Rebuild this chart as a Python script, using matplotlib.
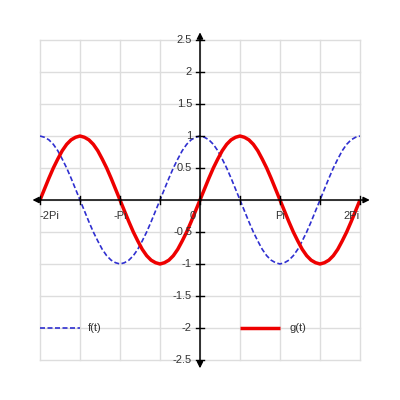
import matplotlib
matplotlib.use("Agg")
import matplotlib.pyplot as plt

plt.rcParams["font.family"] = ["Liberation Sans", "DejaVu Sans"]

# t in degrees (plotted axis spans -2Pi..2Pi), sampled every 10 degrees
t_deg = [-360, -350, -340, -330, -320, -310, -300, -290, -280, -270,
         -260, -250, -240, -230, -220, -210, -200, -190, -180,
         -170, -160, -150, -140, -130, -120, -110, -100, -90,
         -80, -70, -60, -50, -40, -30, -20, -10, 0,
         10, 20, 30, 40, 50, 60, 70, 80, 90,
         100, 110, 120, 130, 140, 150, 160, 170, 180,
         190, 200, 210, 220, 230, 240, 250, 260, 270,
         280, 290, 300, 310, 320, 330, 340, 350, 360]
f_vals = [1, 0.98, 0.94, 0.87, 0.77, 0.64, 0.5, 0.34, 0.17, 0,
          -0.17, -0.34, -0.5, -0.64, -0.77, -0.87, -0.94, -0.98, -1,
          -0.98, -0.94, -0.87, -0.77, -0.64, -0.5, -0.34, -0.17, 0,
          0.17, 0.34, 0.5, 0.64, 0.77, 0.87, 0.94, 0.98, 1,
          0.98, 0.94, 0.87, 0.77, 0.64, 0.5, 0.34, 0.17, 0,
          -0.17, -0.34, -0.5, -0.64, -0.77, -0.87, -0.94, -0.98, -1,
          -0.98, -0.94, -0.87, -0.77, -0.64, -0.5, -0.34, -0.17, 0,
          0.17, 0.34, 0.5, 0.64, 0.77, 0.87, 0.94, 0.98, 1]
g_vals = [0, 0.17, 0.34, 0.5, 0.64, 0.77, 0.87, 0.94, 0.98, 1,
          0.98, 0.94, 0.87, 0.77, 0.64, 0.5, 0.34, 0.17, 0,
          -0.17, -0.34, -0.5, -0.64, -0.77, -0.87, -0.94, -0.98, -1,
          -0.98, -0.94, -0.87, -0.77, -0.64, -0.5, -0.34, -0.17, 0,
          0.17, 0.34, 0.5, 0.64, 0.77, 0.87, 0.94, 0.98, 1,
          0.98, 0.94, 0.87, 0.77, 0.64, 0.5, 0.34, 0.17, 0,
          -0.17, -0.34, -0.5, -0.64, -0.77, -0.87, -0.94, -0.98, -1,
          -0.98, -0.94, -0.87, -0.77, -0.64, -0.5, -0.34, -0.17, 0]

x_ticks = [-360, -270, -180, -90, 0, 90, 180, 270, 360]
x_labels = ["-2Pi", "", "-Pi", "", "0", "", "Pi", "", "2Pi"]
y_ticks = [-2.5, -2, -1.5, -1, -0.5, 0, 0.5, 1, 1.5, 2, 2.5]
y_labels = ["-2.5", "-2", "-1.5", "-1", "-0.5", "", "0.5", "1", "1.5", "2", "2.5"]
series_names = ["f(t)", "g(t)"]

blue = "#2f2fd0"
red = "#ee0000"
txt = "#333333"
fs = 8

fig = plt.figure(figsize=(4, 4), dpi=100)
ax = fig.add_axes([0.1, 0.1, 0.8, 0.8])
ax.set_xlim(-360, 360)
ax.set_ylim(-2.5, 2.5)

# grid
for xv in x_ticks:
    ax.axvline(xv, color="#dddddd", lw=1, zorder=0, clip_on=False)
for yv in y_ticks:
    ax.axhline(yv, color="#dddddd", lw=1, zorder=0, clip_on=False)

for s in ax.spines.values():
    s.set_visible(False)
ax.set_xticks([])
ax.set_yticks([])

# axes with arrows
ax.annotate("", xy=(382, 0), xytext=(-377, 0), xycoords="data",
            arrowprops=dict(arrowstyle="<|-|>", color="black", lw=1.1,
                            mutation_scale=9, shrinkA=0, shrinkB=0),
            annotation_clip=False, zorder=3)
ax.annotate("", xy=(0, 2.62), xytext=(0, -2.63), xycoords="data",
            arrowprops=dict(arrowstyle="<|-|>", color="black", lw=1.1,
                            mutation_scale=9, shrinkA=0, shrinkB=0),
            annotation_clip=False, zorder=3)

# tick marks
for xv in x_ticks:
    ax.plot([xv, xv], [-0.06, 0.06], color="black", lw=1, zorder=3, clip_on=False)
for yv in y_ticks:
    if yv != 0:
        ax.plot([-9, 9], [yv, yv], color="black", lw=1, zorder=3, clip_on=False)

# tick labels
for xv, lab in zip(x_ticks, x_labels):
    if not lab:
        continue
    ha = "center"
    xx = xv
    if xv == x_ticks[0]:
        ha = "left"
    elif xv == x_ticks[-1]:
        ha = "right"
    elif xv == 0:
        xx = -16
    ax.text(xx, -0.25, lab, ha=ha, va="center", fontsize=fs, color=txt, zorder=4)
for yv, lab in zip(y_ticks, y_labels):
    if not lab:
        continue
    ax.text(-18, yv, lab, ha="right", va="center", fontsize=fs, color=txt, zorder=4)

# curves
ax.plot(t_deg, f_vals, color=blue, lw=1.2, dashes=(3, 1.5), zorder=2)
ax.plot(t_deg, g_vals, color=red, lw=2.5, zorder=2, solid_capstyle="butt",
        solid_joinstyle="round")

# legend (manual)
ax.plot([-360, -270], [-2, -2], color=blue, lw=1.2, dashes=(3, 1.5), zorder=2)
ax.text(-252, -2, series_names[0], ha="left", va="center", fontsize=fs, color=txt)
ax.plot([90, 180], [-2, -2], color=red, lw=2.5, zorder=2, solid_capstyle="butt")
ax.text(202, -2, series_names[1], ha="left", va="center", fontsize=fs, color=txt)

fig.savefig("out.png", dpi=100)
